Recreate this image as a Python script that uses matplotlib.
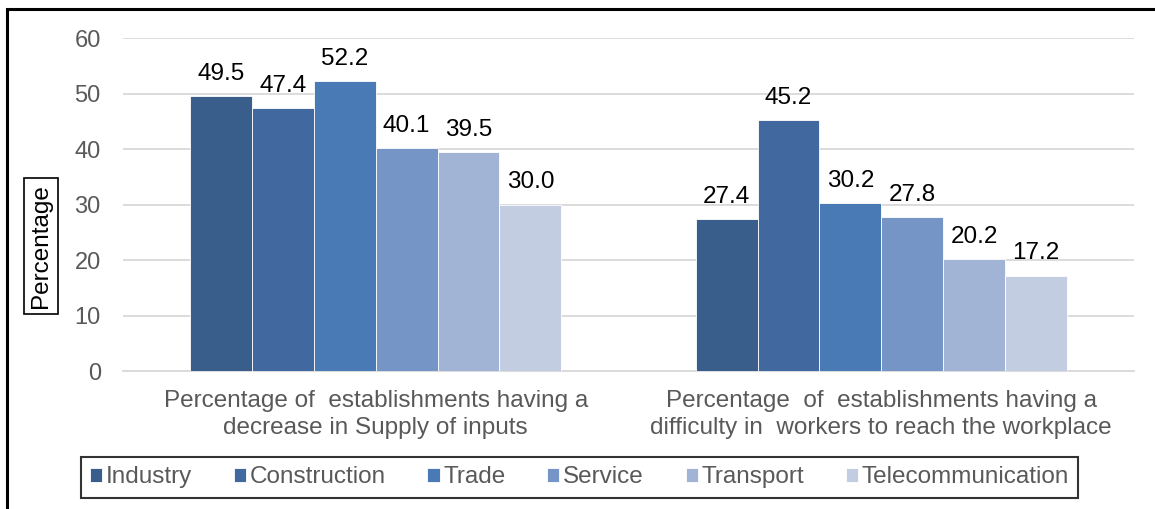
import matplotlib
import matplotlib.pyplot as plt
from matplotlib.patches import Rectangle
import numpy as np

matplotlib.use('Agg')

# data
categories = ['Percentage of  establishments having a\ndecrease in Supply of inputs',
              'Percentage  of  establishments having a\ndifficulty in  workers to reach the workplace']
sectors = ['Industry', 'Construction', 'Trade', 'Service', 'Transport', 'Telecommunication']
supply_values = [49.5, 47.4, 52.2, 40.1, 39.5, 30.0]
workers_values = [27.4, 45.2, 30.2, 27.8, 20.2, 17.2]
y_ticks = [0, 10, 20, 30, 40, 50, 60]

colors = ['#3A5E8C', '#41699F', '#4A7AB5', '#7495C5', '#A1B4D5', '#C3CDE2']
text_grey = '#595959'
fs = 17.5

plt.rcParams['font.family'] = ['Liberation Sans', 'DejaVu Sans']

fig = plt.figure(figsize=(11.55, 5.09), dpi=100)
ax = fig.add_axes([0.1065, 0.2711, 0.8753, 0.6542])

x = np.arange(len(categories))
width = 0.734 / len(sectors)
for i, sector in enumerate(sectors):
    vals = [supply_values[i], workers_values[i]]
    pos = x - 0.367 + width * (i + 0.5)
    bars = ax.bar(pos, vals, width, color=colors[i], edgecolor='white', linewidth=0.6,
                  label=sector, zorder=3)
    for bar, v in zip(bars, vals):
        ax.annotate(f'{v:.1f}', (bar.get_x() + bar.get_width() / 2, v),
                    xytext=(0, 8), textcoords='offset points',
                    ha='center', va='bottom', fontsize=fs, color='black')

ax.set_xlim(-0.5, 1.5)
ax.set_ylim(0, 60)
ax.set_yticks(y_ticks)
ax.set_xticks(x)
ax.set_xticklabels(categories, fontsize=fs, color=text_grey, linespacing=1.28)
ax.tick_params(axis='y', labelsize=17, labelcolor=text_grey, length=0, pad=16)
ax.tick_params(axis='x', length=0, pad=14)
ax.grid(axis='y', color='#D9D9D9', linewidth=1.3, zorder=0)
for s in ['top', 'right', 'left']:
    ax.spines[s].set_visible(False)
ax.spines['bottom'].set_color('#D9D9D9')
ax.spines['bottom'].set_linewidth(1.3)

fig.text(0.0355, 0.5167, 'Percentage', rotation=90, ha='center', va='center',
         fontsize=fs, color='black',
         bbox=dict(boxstyle='square,pad=0.25', facecolor='white', edgecolor='black', linewidth=1.2))

leg = fig.legend(loc='center', bbox_to_anchor=(0.5017, 0.0619), ncol=6, fontsize=fs,
                 frameon=True, fancybox=False, handlelength=0.5, handleheight=0.5,
                 handletextpad=0.15, columnspacing=1.72, borderpad=0.38)
leg.get_frame().set_edgecolor('black')
leg.get_frame().set_linewidth(1.5)
for t in leg.get_texts():
    t.set_color(text_grey)

# outer border of the picture (left and top edges visible)
fig.patches.append(Rectangle((0.006, -0.1), 1.2, 1.082, transform=fig.transFigure,
                             fill=False, edgecolor='black', linewidth=2.2))

fig.savefig('out.png', dpi=100)
